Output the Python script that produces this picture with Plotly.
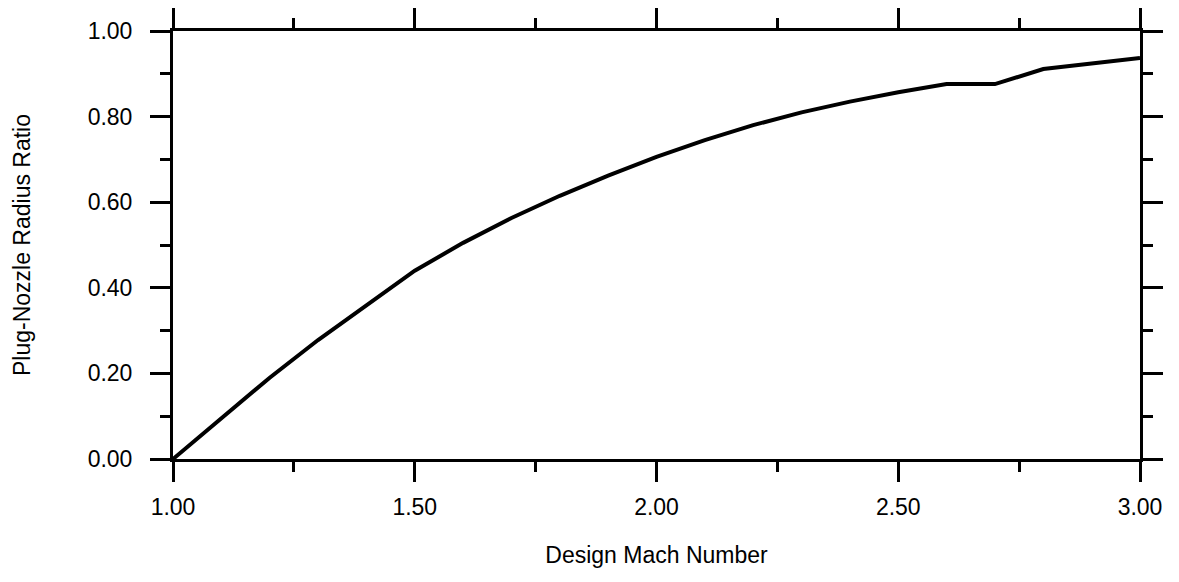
import plotly.graph_objects as go

mach = [1.0, 1.1, 1.2, 1.3, 1.4, 1.5, 1.6, 1.7, 1.8, 1.9, 2.0,
        2.1, 2.2, 2.3, 2.4, 2.5, 2.6, 2.7, 2.8, 2.9, 3.0]
radius_ratio = [0.0, 0.095, 0.19, 0.278, 0.36, 0.44, 0.505, 0.563, 0.615, 0.662, 0.706,
                0.745, 0.78, 0.81, 0.835, 0.857, 0.876, 0.876, 0.911, 0.924, 0.937]

x_ticks = [1.0, 1.5, 2.0, 2.5, 3.0]
y_ticks = [0.0, 0.2, 0.4, 0.6, 0.8, 1.0]

font = "Liberation Sans, Arial, sans-serif"

fig = go.Figure()
fig.add_trace(go.Scatter(x=mach, y=radius_ratio, mode="lines",
                         line=dict(color="black", width=4), showlegend=False))

axis_common = dict(
    showgrid=False, zeroline=False, showline=True, linecolor="black", linewidth=3,
    mirror="allticks", ticks="outside", ticklen=20, tickwidth=3, tickcolor="black",
    tickformat=".2f", tickfont=dict(family=font, size=23, color="black"),
    automargin=False,
)

fig.update_xaxes(
    range=[1.0, 3.0], tickvals=x_ticks,
    minor=dict(dtick=0.25, tick0=1.0, ticks="outside", ticklen=10, tickwidth=3, tickcolor="black"),
    title=dict(text="Design Mach Number", font=dict(family=font, size=23, color="black"), standoff=29),
    ticklabelstandoff=5,
    **axis_common,
)
fig.update_yaxes(
    range=[0.0, 1.0], tickvals=y_ticks,
    minor=dict(dtick=0.1, tick0=0.0, ticks="outside", ticklen=10, tickwidth=3, tickcolor="black"),
    title=dict(text="Plug-Nozzle Radius Ratio", font=dict(family=font, size=23, color="black"), standoff=51),
    ticklabelstandoff=13,
    **axis_common,
)

fig.update_layout(
    width=1179, height=582,
    margin=dict(l=173, r=39, t=31, b=123),
    plot_bgcolor="white", paper_bgcolor="white",
)

fig.write_html("out.html")
